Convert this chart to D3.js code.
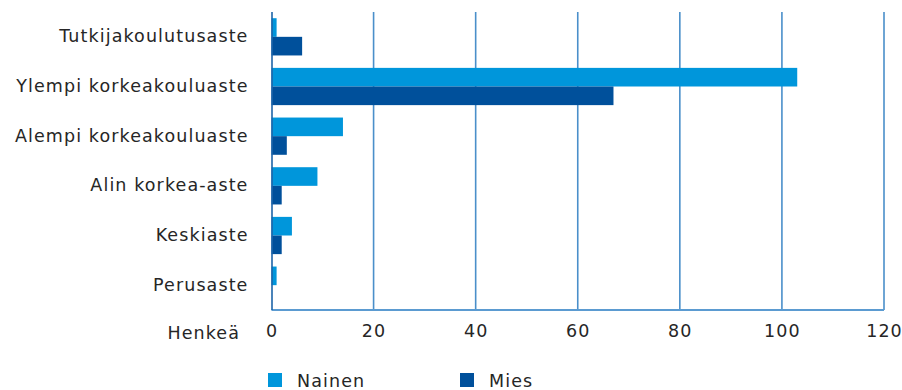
<!DOCTYPE html>
<html>
<head>
<meta charset="utf-8">
<script src="https://cdn.jsdelivr.net/npm/d3@7"></script>
<style>
  html, body { margin: 0; padding: 0; background: #fff; }
  svg { display: block; }
  svg text { font-family: "DejaVu Sans", sans-serif; letter-spacing: 1.1px; }
</style>
</head>
<body>
<svg id="chart" width="902" height="390"></svg>
<script>
// Koulutusaste sukupuolen mukaan (henkeä)
const categories = [
  "Tutkijakoulutusaste",
  "Ylempi korkeakouluaste",
  "Alempi korkeakouluaste",
  "Alin korkea-aste",
  "Keskiaste",
  "Perusaste"
];
const seriesNames = ["Nainen", "Mies"];
const nainen = [1, 103, 14, 9, 4, 1];
const mies = [6, 67, 3, 2, 2, 0];
const tickValues = [0, 20, 40, 60, 80, 100, 120];
const axisTitle = "Henkeä";
const colors = ["#0096DB", "#00509B"];

const svg = d3.select("#chart");
const margin = { top: 12, left: 271.5 };
const innerW = 884 - margin.left;
const innerH = 310 - margin.top;
const textColor = "#262626";
const fontSize = 17.5;

const g = svg.append("g").attr("transform", `translate(${margin.left},${margin.top})`);

const x = d3.scaleLinear().domain([0, 120]).range([0, innerW]);
const y = d3.scaleBand().domain(categories).range([0, innerH]).paddingInner(0.25).paddingOuter(0.125);
const ySub = d3.scaleBand().domain(seriesNames).range([0, y.bandwidth()]);

// vertical grid lines
g.append("g").selectAll("line")
  .data(tickValues.filter(d => d > 0))
  .join("line")
  .attr("x1", d => x(d)).attr("x2", d => x(d))
  .attr("y1", 0).attr("y2", innerH)
  .attr("stroke", "#4a8fca").attr("stroke-width", 1.6);

// bars
const rows = categories.map((c, i) => ({ c, vals: [nainen[i], mies[i]] }));
const grp = g.append("g").selectAll("g").data(rows).join("g")
  .attr("transform", d => `translate(0,${y(d.c)})`);
grp.selectAll("rect")
  .data(d => d.vals.map((v, j) => ({ v, s: seriesNames[j], j })))
  .join("rect")
  .attr("x", 0)
  .attr("y", d => ySub(d.s))
  .attr("width", d => x(d.v))
  .attr("height", ySub.bandwidth())
  .attr("fill", d => colors[d.j]);

// bottom line and zero axis
g.append("line").attr("x1", 0).attr("x2", innerW).attr("y1", innerH).attr("y2", innerH)
  .attr("stroke", "#5b9bd1").attr("stroke-width", 1.8);
g.append("line").attr("x1", 0.5).attr("x2", 0.5).attr("y1", 0).attr("y2", innerH)
  .attr("stroke", "#1d64a8").attr("stroke-width", 1.6);

// x axis labels
const xAxis = d3.axisBottom(x).tickValues(tickValues).tickSize(0).tickPadding(15);
const xa = g.append("g").attr("transform", `translate(0,${innerH})`).call(xAxis)
  .attr("font-family", null).attr("font-size", null);
xa.select(".domain").remove();
xa.selectAll("text").attr("font-size", fontSize).attr("fill", textColor);

// axis title
svg.append("text").attr("x", 240).attr("y", 339).attr("text-anchor", "end")
  .attr("font-size", fontSize).attr("fill", textColor).text(axisTitle);

// category labels
const yAxis = d3.axisLeft(y).tickSize(0).tickPadding(23);
const ya = g.append("g").call(yAxis).attr("font-family", null).attr("font-size", null);
ya.select(".domain").remove();
ya.selectAll("text").attr("font-size", fontSize).attr("fill", textColor);

// legend
const legendX = [268, 460];
const leg = svg.append("g").selectAll("g").data(seriesNames).join("g")
  .attr("transform", (d, i) => `translate(${legendX[i]},373)`);
leg.append("rect").attr("width", 14).attr("height", 14).attr("fill", (d, i) => colors[i]);
leg.append("text").attr("x", 29).attr("y", 14).attr("font-size", fontSize).attr("fill", textColor).text(d => d);
</script>
</body>
</html>
